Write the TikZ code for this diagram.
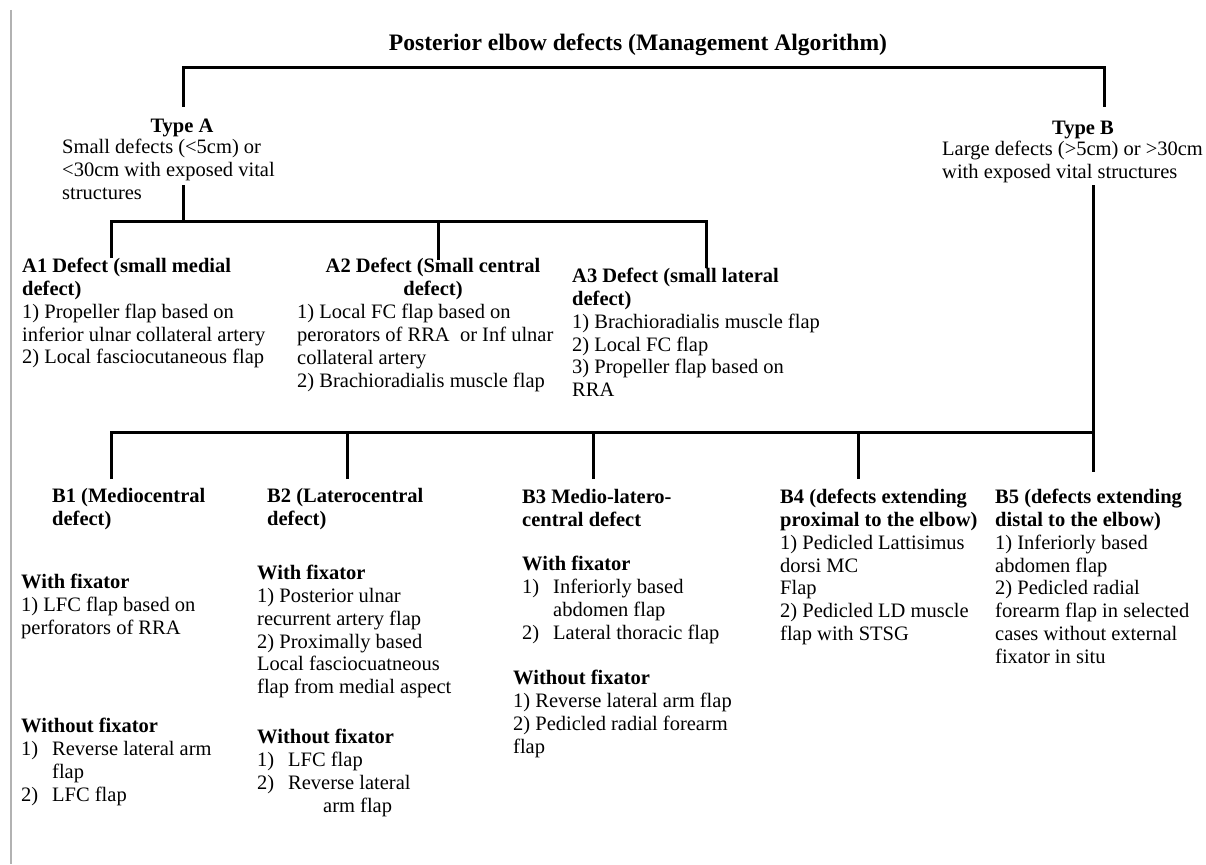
\documentclass[tikz,border=0pt]{standalone}
\usepackage{fontspec}
\setmainfont{Liberation Serif}
\newcommand{\numlab}[1]{\makebox[31pt][l]{#1}}

\begin{document}
\begin{tikzpicture}[
   x=1pt,y=-1pt,
   every node/.style={inner sep=0pt,font=\fontsize{20.5}{22.8}\selectfont,execute at begin node=\strut},
   txt/.style={anchor=north west,align=left},
   head/.style={anchor=north,align=center,font=\fontsize{20.5}{22.8}\selectfont\bfseries},
   bar/.style={line width=3pt},
   frame/.style={gray!60,line width=1.5pt}]
\useasboundingbox (0,0) rectangle (1206,864);
\draw[frame] (11,10) -- (11,864);
\node[head,font=\fontsize{23.6}{26}\selectfont\bfseries] (title) at (638,32) {Posterior elbow defects (Management Algorithm)};
% type A / type B
\node[head] (typeA) at (182,116) {Type A};
\node[txt] (typeAtxt) at (62,139) {Small defects (<5cm) or\\<30cm with exposed vital\\structures};
\node[head] (typeB) at (1083,118) {Type B};
\node[txt] (typeBtxt) at (942,141) {Large defects (>5cm) or >30cm\\with exposed vital structures};
% A defects
\node[txt] (A1) at (22,258) {\textbf{A1 Defect (small medial}\\\textbf{defect)}\\1) Propeller flap based on\\inferior ulnar collateral artery\\2) Local fasciocutaneous flap};
\node[head] (A2) at (433,258) {A2 Defect (Small central\\defect)};
\node[txt] (A2txt) at (297,304) {1) Local FC flap based on\\perorators of RRA\ \ or Inf ulnar\\collateral artery\\2) Brachioradialis muscle flap};
\node[txt] (A3) at (572,268) {\textbf{A3 Defect (small lateral}\\\textbf{defect)}\\1) Brachioradialis muscle flap\\2) Local FC flap\\3) Propeller flap based on\\RRA};
% B defects
\node[txt,font=\fontsize{20.5}{22.8}\selectfont\bfseries] (B1) at (52,488) {B1 (Mediocentral\\defect)};
\node[txt] (B1with) at (21,574) {\textbf{With fixator}\\1) LFC flap based on\\perforators of RRA};
\node[txt] (B1without) at (21,718) {\textbf{Without fixator}\\\numlab{1)}Reverse lateral arm\\\hspace*{31pt}flap\\\numlab{2)}LFC flap};
\node[txt,font=\fontsize{20.5}{22.8}\selectfont\bfseries] (B2) at (267,488) {B2 (Laterocentral\\defect)};
\node[txt] (B2with) at (257,565) {\textbf{With fixator}\\1) Posterior ulnar\\recurrent artery flap\\2) Proximally based\\Local fasciocuatneous\\flap from medial aspect};
\node[txt] (B2without) at (257,729) {\textbf{Without fixator}\\\numlab{1)}LFC flap\\\numlab{2)}Reverse lateral\\\hspace*{66pt}arm flap};
\node[txt,font=\fontsize{20.5}{22.8}\selectfont\bfseries] (B3) at (522,489) {B3 Medio-latero-\\central defect};
\node[txt] (B3with) at (522,556) {\textbf{With fixator}\\\numlab{1)}Inferiorly based\\\hspace*{31pt}abdomen flap\\\numlab{2)}Lateral thoracic flap};
\node[txt] (B3without) at (513,670) {\textbf{Without fixator}\\1) Reverse lateral arm flap\\2) Pedicled radial forearm\\flap};
\node[txt] (B4) at (780,489) {\textbf{B4 (defects extending}\\\textbf{proximal to the elbow)}\\1) Pedicled Lattisimus\\dorsi MC\\Flap\\2) Pedicled LD muscle\\flap with STSG};
\node[txt] (B5) at (995,489) {\textbf{B5 (defects extending}\\\textbf{distal to the elbow)}\\1) Inferiorly based\\abdomen flap\\2) Pedicled radial\\forearm flap in selected\\cases without external\\fixator in situ};
% tree lines
\coordinate (top) at (643,68);
\coordinate (tA) at (183,107);
\coordinate (tB) at (1104,107);
\coordinate (aUp) at (183,185);
\coordinate (aJ) at (183,221);
\coordinate (a1) at (111,258);
\coordinate (a2) at (438,260);
\coordinate (a3) at (706,268);
\coordinate (bUp) at (1093,185);
\coordinate (bJ) at (1093,432);
\coordinate (b1) at (111,479);
\coordinate (b2) at (347,479);
\coordinate (b3) at (593,479);
\coordinate (b4) at (858,479);
\coordinate (b5) at (1093,472);
\draw[bar] (tA) |- (top) -| (tB);
\draw[bar] (aUp) -- (aJ);
\draw[bar] (a1) |- (aJ) -| (a3);
\draw[bar] (a2) -- (a2 |- aJ);
\draw[bar] (bUp) -- (b5);
\draw[bar] (b1) |- (bJ);
\foreach \b in {b2,b3,b4}
  \draw[bar] (\b) -- (\b |- bJ);
\end{tikzpicture}
\end{document}
